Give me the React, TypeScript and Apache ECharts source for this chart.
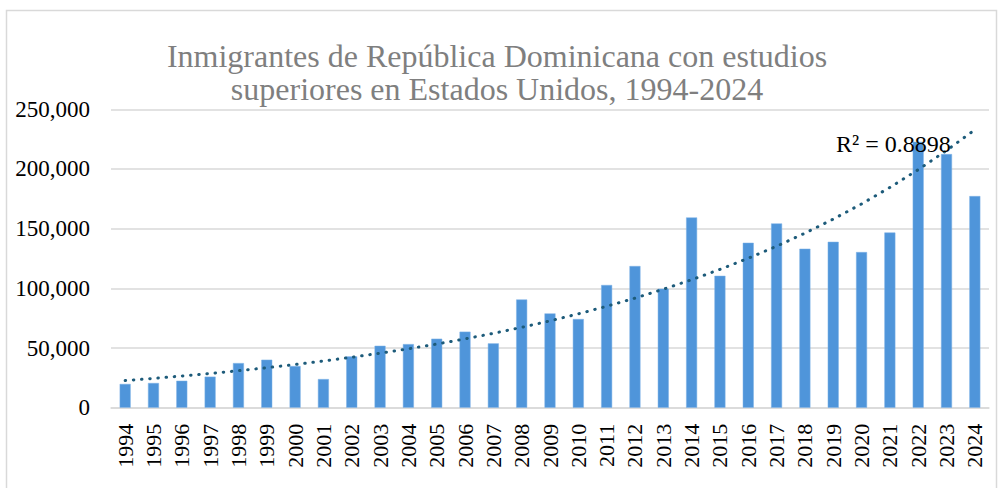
import React, { useEffect, useRef } from "react";
import * as echarts from "echarts";

const years = [
  "1994", "1995", "1996", "1997", "1998", "1999", "2000", "2001", "2002", "2003", "2004",
  "2005", "2006", "2007", "2008", "2009", "2010", "2011", "2012", "2013", "2014",
  "2015", "2016", "2017", "2018", "2019", "2020", "2021", "2022", "2023", "2024",
];
const immigrants = [
  19900, 20700, 22600, 26000, 37400, 40200, 34900, 24000, 43000, 51900, 53300,
  57800, 63700, 53900, 90700, 79000, 74300, 102800, 118700, 99700, 159400,
  110500, 138200, 154400, 133200, 139000, 130400, 146800, 222800, 212500, 177300,
];
const yTicks = { min: 0, max: 250000, interval: 50000 };
const titleLines = [
  "Inmigrantes de República Dominicana con estudios",
  "superiores en Estados Unidos, 1994-2024",
];
const r2Label = "R² = 0.8898";

// Exponential least-squares fit (as Excel's exponential trendline) on ln(y)
function expTrend(vals: number[]): number[] {
  const n = vals.length;
  let sx = 0, sy = 0, sxx = 0, sxy = 0;
  vals.forEach((v, i) => {
    const x = i + 1;
    const y = Math.log(v);
    sx += x; sy += y; sxx += x * x; sxy += x * y;
  });
  const b = (n * sxy - sx * sy) / (n * sxx - sx * sx);
  const a = (sy - b * sx) / n;
  return vals.map((_, i) => Math.exp(a + b * (i + 1)));
}

const FONT = "'Liberation Serif', 'Times New Roman', serif";

export default function App() {
  const ref = useRef<HTMLDivElement>(null);
  useEffect(() => {
    document.body.style.margin = "0";
    const chart = echarts.init(ref.current!, null, { renderer: "svg" });
    const trend = expTrend(immigrants);
    chart.setOption({
      animation: false,
      backgroundColor: "#ffffff",
      grid: { left: 111, right: 13, top: 109.3, bottom: 80.3, containLabel: false },
      title: {
        text: titleLines.join("\n"),
        left: 492,
        textAlign: "center",
        top: 34,
        textStyle: {
          fontFamily: FONT,
          fontSize: 32,
          fontWeight: "normal",
          color: "#7f7f7f",
          lineHeight: 33,
        },
      },
      xAxis: {
        type: "category",
        data: years,
        axisLine: { show: true, lineStyle: { color: "#d9d9d9", width: 1.5 } },
        axisTick: { show: false },
        axisLabel: {
          rotate: 90,
          interval: 0,
          margin: 16,
          fontFamily: FONT,
          fontSize: 22,
          color: "#000000",
        },
      },
      yAxis: {
        type: "value",
        min: yTicks.min,
        max: yTicks.max,
        interval: yTicks.interval,
        axisLine: { show: false },
        axisTick: { show: false },
        splitLine: { lineStyle: { color: "#d9d9d9", width: 1.5 } },
        axisLabel: {
          margin: 21,
          fontFamily: FONT,
          fontSize: 23,
          color: "#000000",
          formatter: (v: number) => v.toLocaleString("en-US"),
        },
      },
      series: [
        {
          type: "bar",
          data: immigrants,
          barWidth: 11,
          itemStyle: { color: "#4f95da", borderColor: "#7fb2e6", borderWidth: 0.5 },
        },
        {
          type: "line",
          data: trend,
          symbol: "none",
          smooth: false,
          lineStyle: { color: "#1d5b7a", width: 3, type: [0.5, 7.7], cap: "round" },
          z: 5,
        },
      ],
      graphic: [
        {
          type: "rect",
          shape: { x: 6.5, y: 10.5, width: 990, height: 500 },
          style: { fill: "none", stroke: "#d9d9d9", lineWidth: 1.5 },
          silent: true,
        },
        {
          type: "text",
          x: 836,
          y: 132,
          style: {
            text: r2Label,
            font: `24px ${FONT}`,
            fill: "#000000",
          },
          z: 10,
        },
      ],
    });
    return () => chart.dispose();
  }, []);
  return <div ref={ref} style={{ position: "absolute", left: 0, top: 0, width: 1002, height: 488 }} />;
}
